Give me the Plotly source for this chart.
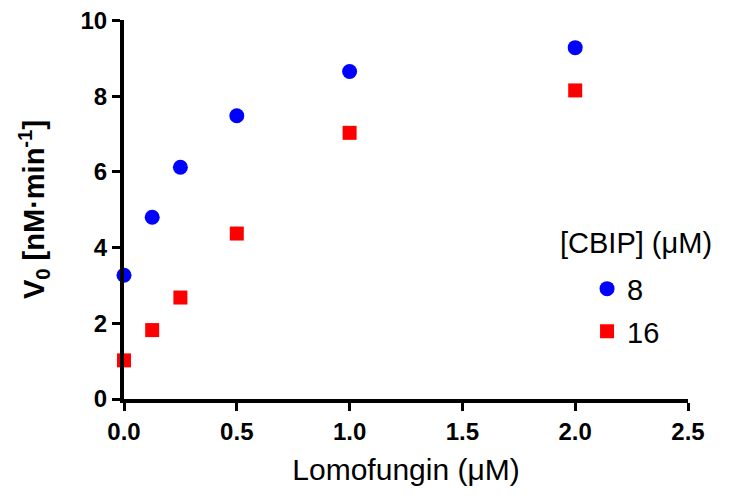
import plotly.graph_objects as go

lomofungin = [0.0, 0.125, 0.25, 0.5, 1.0, 2.0]
v0_cbip8 = [3.27, 4.80, 6.12, 7.48, 8.65, 9.28]
v0_cbip16 = [1.02, 1.82, 2.68, 4.37, 7.03, 8.15]
series_names = ["8", "16"]
legend_title = "[CBIP] (μM)"
x_ticks = [0.0, 0.5, 1.0, 1.5, 2.0, 2.5]
x_ticklabels = ["0.0", "0.5", "1.0", "1.5", "2.0", "2.5"]
y_ticks = [0, 2, 4, 6, 8, 10]

FONT = "Liberation Sans, Arial, sans-serif"

fig = go.Figure()
fig.add_trace(go.Scatter(
    x=lomofungin, y=v0_cbip8, mode="markers", name=series_names[0],
    legendgroup="a",
    marker=dict(symbol="circle", size=15, color="#0000ff"),
    cliponaxis=False,
))
fig.add_trace(go.Scatter(
    x=lomofungin, y=v0_cbip16, mode="markers", name=series_names[1],
    legendgroup="b",
    marker=dict(symbol="square", size=14, color="#ff0000"),
    cliponaxis=False,
))

fig.add_annotation(
    text=legend_title, xref="paper", yref="paper",
    x=(550 - 116) / 564, y=(391 - 235) / 379, xanchor="left", yanchor="middle",
    showarrow=False, font=dict(size=29, family=FONT, color="black"),
)

fig.update_layout(
    template="none",
    width=736, height=501,
    margin=dict(l=116, r=56, t=12, b=110, autoexpand=False),
    plot_bgcolor="white", paper_bgcolor="white",
    font=dict(family=FONT, color="black"),
    showlegend=True,
    legend=dict(
        font=dict(size=29, family=FONT),
        x=0.821, y=0.358, xanchor="left", yanchor="top",
        bgcolor="rgba(0,0,0,0)", borderwidth=0, tracegroupgap=2,
    ),
    xaxis=dict(
        range=[0, 2.5], tickvals=x_ticks, ticktext=x_ticklabels,
        showgrid=False, zeroline=False, automargin=False,
        showline=True, linecolor="black", linewidth=4,
        ticks="outside", ticklen=8, tickwidth=3, tickcolor="black",
        tickfont=dict(size=24, family=FONT, weight="bold"),
        ticklabeloverflow="allow",
        title=dict(text="Lomofungin (μM)", font=dict(size=30, family=FONT), standoff=16),
    ),
    yaxis=dict(
        range=[0, 10.01], tickvals=y_ticks,
        showgrid=False, zeroline=False, automargin=False,
        showline=True, linecolor="black", linewidth=4,
        ticks="outside", ticklen=8, tickwidth=3, tickcolor="black",
        tickfont=dict(size=24, family=FONT, weight="bold"),
        ticklabeloverflow="allow",
        title=dict(text="<b>V<sub>0</sub> [nM·min<sup>-1</sup>]</b>", font=dict(size=29, family=FONT), standoff=28),
    ),
)

fig.write_html("out.html")
